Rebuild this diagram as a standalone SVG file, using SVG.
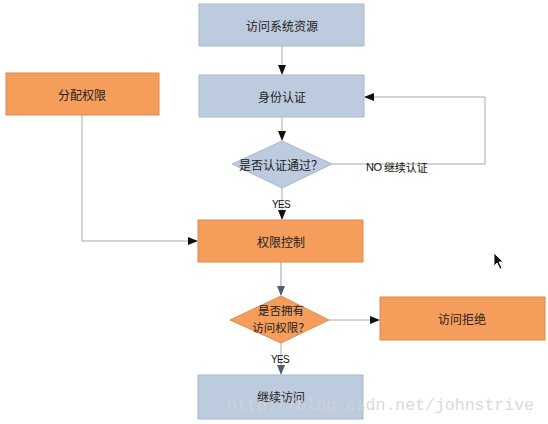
<svg xmlns="http://www.w3.org/2000/svg" width="548" height="424" viewBox="0 0 548 424">
<style>
.blue{fill:#bccbde;stroke:#a8b8cc;stroke-width:1}
.orange{fill:#f59e5c;stroke:#e0894a;stroke-width:1}
.t{font-family:"Noto Sans CJK SC","Noto Sans",sans-serif;font-size:12px;fill:#222;text-anchor:middle;dominant-baseline:central}
.lbl{font-family:"Liberation Sans Narrow","Liberation Sans",sans-serif;font-size:10px;fill:#111;text-anchor:middle;dominant-baseline:central;letter-spacing:-0.6px}
.c{fill:none;stroke:#aaaaaa;stroke-width:1}
.cb{fill:none;stroke:#8ea0b6;stroke-width:1}
</style>
<defs>
<marker id="ah" markerWidth="10" markerHeight="8" refX="9" refY="4" orient="auto" markerUnits="userSpaceOnUse"><path d="M0,0 L10,4 L0,8 Z" fill="#111"/></marker>
<marker id="ahb" markerWidth="10" markerHeight="8" refX="9" refY="4" orient="auto" markerUnits="userSpaceOnUse"><path d="M0,0 L10,4 L0,8 Z" fill="#4a5f7e"/></marker>
</defs>
<rect width="548" height="424" fill="#ffffff"/>
<g id="connectors">
<line class="c" x1="282" y1="46" x2="282" y2="74" marker-end="url(#ah)"/>
<line class="c" x1="282" y1="117" x2="282" y2="140" marker-end="url(#ah)"/>
<polyline class="c" points="332,164 485,164 485,97 365,97" marker-end="url(#ah)"/>
<line class="c" x1="282" y1="188" x2="282" y2="219" marker-end="url(#ah)"/>
<polyline class="c" points="82,115 82,241 197,241" marker-end="url(#ah)"/>
<line class="cb" x1="281" y1="262" x2="281" y2="295" marker-end="url(#ahb)"/>
<line class="c" x1="329" y1="320" x2="379" y2="320" marker-end="url(#ah)"/>
<line class="c" x1="281" y1="343" x2="281" y2="374" marker-end="url(#ahb)"/>
<text class="lbl" x="397" y="167" style="font-size:11px">NO <tspan style="font-family:'Noto Sans CJK SC',sans-serif;letter-spacing:0">继续认证</tspan></text>
<text class="lbl" x="281" y="204">YES</text>
<text class="lbl" x="280" y="359">YES</text>
</g>
<g id="n1"><rect class="blue" x="199" y="4" width="165" height="42"/><text class="t" x="282" y="25">访问系统资源</text></g>
<g id="n2"><rect class="blue" x="199" y="75" width="165" height="42"/><text class="t" x="282" y="96">身份认证</text></g>
<g id="d1"><polygon class="blue" points="282,141 332,164 282,188 232,164"/><text class="t" x="281" y="164">是否认证通过？</text></g>
<g id="n3"><rect class="orange" x="6" y="73" width="153" height="42"/><text class="t" x="82" y="94">分配权限</text></g>
<g id="n4"><rect class="orange" x="198" y="220" width="165" height="42"/><text class="t" x="281" y="241">权限控制</text></g>
<g id="d2"><polygon class="orange" points="281,296 329,320 281,343 230,320"/><text class="t" x="281" y="310" style="font-size:11.5px">是否拥有</text><text class="t" x="281" y="327" style="font-size:11.5px">访问权限？</text></g>
<g id="n5"><rect class="orange" x="380" y="297" width="165" height="43"/><text class="t" x="462" y="318">访问拒绝</text></g>
<g id="n6"><rect class="blue" x="198" y="375" width="165" height="44"/><text class="t" x="281" y="396">继续访问</text></g>
<text x="227" y="410" font-family="'Liberation Mono',monospace" font-size="16.5" fill="#d4d4d4" opacity="0.85">http://blog.csdn.net/johnstrive</text>
<path d="M494,253 L494,266 L497,263 L500,269 L502,268 L499,262 L503,262 Z" fill="#111" stroke="#fff" stroke-width="0.8"/>
</svg>
